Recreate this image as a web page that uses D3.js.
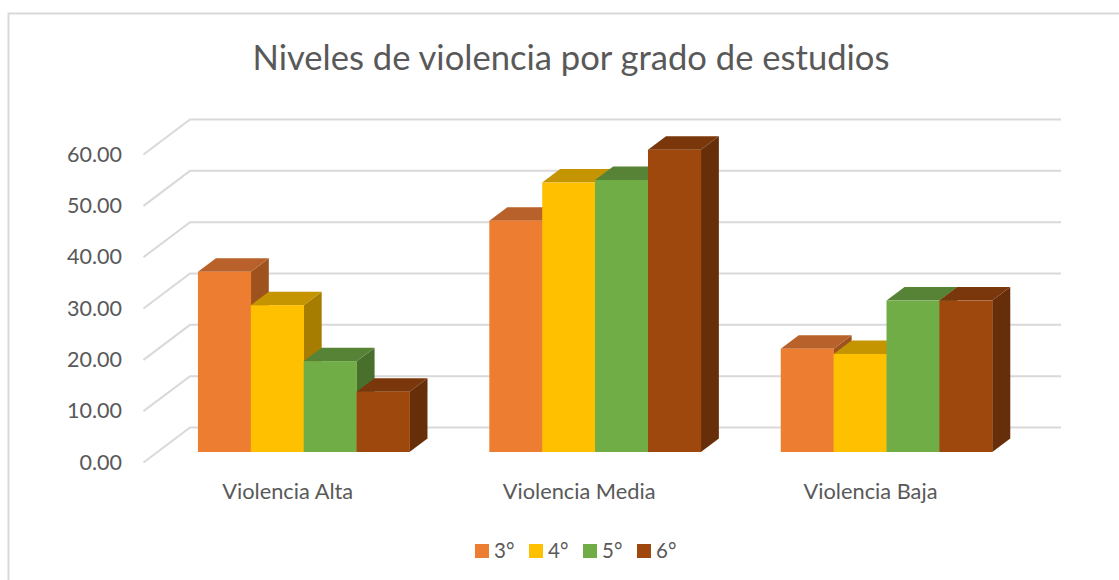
<!DOCTYPE html>
<html><head><meta charset="utf-8">
<script src="https://cdnjs.cloudflare.com/ajax/libs/d3/7.8.5/d3.min.js"></script>
<style>html,body{margin:0;padding:0;background:#fff}svg{display:block}text{font-family:Lato,"Open Sans",sans-serif;fill:#595959}</style>
</head><body><svg id="c" width="1119" height="580"></svg>
<script>
const categories = ["Violencia Alta","Violencia Media","Violencia Baja"];
const seriesNames = ["3°","4°","5°","6°"];
const values3 = [35.1,45.05,20.1];
const values4 = [28.6,52.5,19.1];
const values5 = [17.7,53.0,29.5];
const values6 = [11.75,58.9,29.5];
const allValues = [values3,values4,values5,values6];
const tickValues = [0,10,20,30,40,50,60];
const front = ["#ED7D31","#FFC000","#70AD47","#9E480E"];
const topCol = ["#B9612A","#C49500","#578336","#7A370B"];
const sideCol = ["#9E531F","#A67D00","#496F2D","#662E09"];

const svg = d3.select("#c");
svg.append("rect").attr("x",8.5).attr("y",13.5).attr("width",1140).attr("height",600).attr("fill","#fff").attr("stroke","#D9D9D9").attr("stroke-width",2);
svg.append("text").attr("x",571).attr("y",70).attr("text-anchor","middle").attr("font-size",34.6).text("Niveles de violencia por grado de estudios");

const y = d3.scaleLinear().domain([0,60]).range([452,144]);
const wallDy=-24.5, floorDy=10.5;
const x0 = d3.scaleBand().domain(categories).range([158,1032.2]).paddingInner(0.274).paddingOuter(0.137);
const x1 = d3.scaleBand().domain(seriesNames).range([0,x0.bandwidth()]);

const grid = svg.append("g").attr("fill","none").attr("stroke","#D9D9D9").attr("stroke-width",2);
tickValues.forEach(t=>{
  const yy=y(t);
  grid.append("path").attr("d",d3.line()([[143.5,yy+floorDy],[190,yy+wallDy],[1061,yy+wallDy]]));
  svg.append("text").attr("x",122).attr("y",yy+floorDy-0.5).attr("dy","0.36em").attr("text-anchor","end").attr("font-size",21.5).text(t.toFixed(2));
});

const dx=18, dy=13.5;
categories.forEach((c,i)=>{
  seriesNames.forEach((s,j)=>{
    const v=allValues[j][i], l=x0(c)+x1(s), w=x1.bandwidth(), t=y(v), b=y(0);
    svg.append("polygon").attr("fill",sideCol[j]).attr("points",[[l+w,t],[l+w+dx,t-dy],[l+w+dx,b-dy],[l+w,b]].join(" "));
    svg.append("polygon").attr("fill",topCol[j]).attr("points",[[l,t],[l+dx,t-dy],[l+w+dx,t-dy],[l+w,t]].join(" "));
    svg.append("rect").attr("fill",front[j]).attr("x",l).attr("y",t).attr("width",w+0.3).attr("height",b-t);
  });
  svg.append("text").attr("x",x0(c)+x0.bandwidth()/2-16).attr("y",499).attr("text-anchor","middle").attr("font-size",21.8).text(c);
});

const legX=[475,529,583,637];
seriesNames.forEach((s,j)=>{
  svg.append("rect").attr("x",legX[j]).attr("y",544).attr("width",14).attr("height",14).attr("fill",front[j]);
  svg.append("text").attr("x",legX[j]+19).attr("y",558).attr("font-size",20.5).text(s);
});
</script></body></html>
